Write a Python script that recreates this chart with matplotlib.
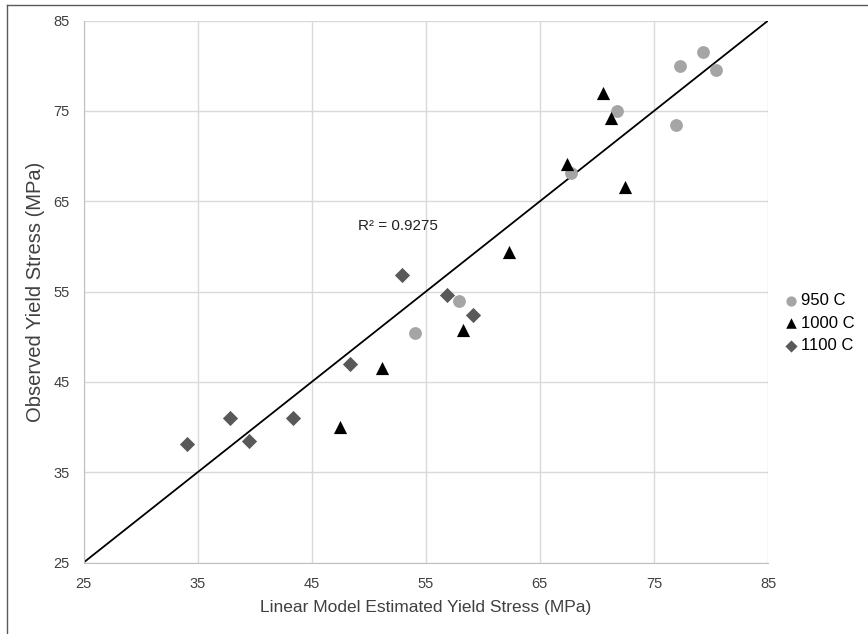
import numpy as np
import matplotlib.pyplot as plt
from matplotlib.lines import Line2D

plt.rcParams['font.family'] = ['Liberation Sans', 'DejaVu Sans']

# estimated vs observed yield stress (MPa) by temperature
x_950 = [77.3, 79.3, 80.4, 71.8, 76.9, 67.7, 57.9, 54.1]
y_950 = [80.0, 81.5, 79.5, 75.0, 73.5, 68.1, 54.0, 50.4]

x_1000 = [70.5, 71.2, 67.4, 72.5, 62.3, 58.3, 51.2, 47.5]
y_1000 = [77.0, 74.2, 69.1, 66.6, 59.4, 50.8, 46.5, 40.0]

x_1100 = [52.9, 56.9, 59.1, 48.4, 37.8, 43.4, 39.5, 34.1]
y_1100 = [56.8, 54.6, 52.4, 47.0, 41.0, 41.0, 38.5, 38.1]

ticks = [25, 35, 45, 55, 65, 75, 85]
r2_text = 'R² = 0.9275'

fig = plt.figure(figsize=(8.68, 6.34), dpi=100)
ax = fig.add_axes([0.0962, 0.1126, 0.7886, 0.8548])

ax.scatter(x_950, y_950, s=85, marker='o', color='#a5a5a5', label='950 C', zorder=3, linewidths=0)
ax.scatter(x_1000, y_1000, s=90, marker='^', color='black', label='1000 C', zorder=3, linewidths=0)
ax.scatter(x_1100, y_1100, s=60, marker='D', color='#595959', label='1100 C', zorder=3, linewidths=0)

# 1:1 line across the full range
ax.plot([ticks[0], ticks[-1]], [ticks[0], ticks[-1]], color='black', lw=1.3, zorder=2)
ax.text(52.6, 62.3, r2_text, fontsize=11, ha='center', va='center', color='#222222')

ax.set_xlim(ticks[0], ticks[-1])
ax.set_ylim(ticks[0], ticks[-1])
ax.set_xticks(ticks)
ax.set_yticks(ticks)
ax.grid(True, color='#d9d9d9', lw=1)
ax.set_axisbelow(True)
for s in ['top', 'right']:
    ax.spines[s].set_visible(False)
for s in ['left', 'bottom']:
    ax.spines[s].set_color('#bfbfbf')
ax.tick_params(length=0, labelsize=10.5, colors='#404040', pad=10)
ax.set_xlabel('Linear Model Estimated Yield Stress (MPa)', fontsize=12.5, color='#404040', labelpad=7)
ax.set_ylabel('Observed Yield Stress (MPa)', fontsize=14.5, color='#404040', labelpad=6)

ax.legend(loc='center left', bbox_to_anchor=(0.893, 0.4905), bbox_transform=fig.transFigure,
          frameon=False, fontsize=12, handletextpad=0.05, labelspacing=0.45,
          markerscale=0.8, borderaxespad=0, handlelength=1.1)

# outer frame on top and left
fig.add_artist(Line2D([0.008, 1], [0.992, 0.992], color='#595959', lw=1, transform=fig.transFigure))
fig.add_artist(Line2D([0.008, 0.008], [0, 0.992], color='#595959', lw=1, transform=fig.transFigure))

fig.savefig('out.png', dpi=100)
